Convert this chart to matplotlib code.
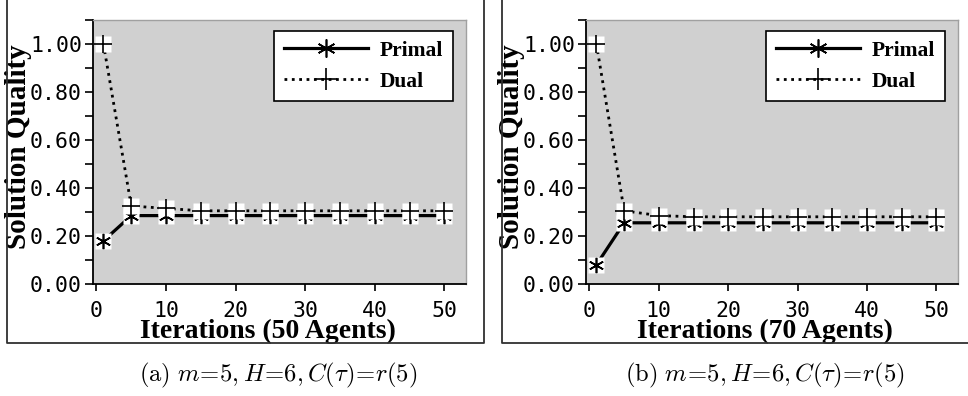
import matplotlib
matplotlib.use("Agg")
import matplotlib.pyplot as plt
from matplotlib.lines import Line2D
from matplotlib.ticker import MultipleLocator, FormatStrFormatter

plt.rcParams['mathtext.fontset'] = 'cm'

# data
iterations = [1, 5, 10, 15, 20, 25, 30, 35, 40, 45, 50]
primal_50 = [0.18, 0.285, 0.285, 0.285, 0.285, 0.285, 0.285, 0.285, 0.285, 0.285, 0.285]
dual_50 = [1.00, 0.325, 0.315, 0.305, 0.305, 0.305, 0.305, 0.305, 0.305, 0.305, 0.305]
primal_70 = [0.08, 0.255, 0.255, 0.255, 0.255, 0.255, 0.255, 0.255, 0.255, 0.255, 0.255]
dual_70 = [1.00, 0.305, 0.285, 0.28, 0.28, 0.28, 0.28, 0.28, 0.28, 0.28, 0.28]
xlabels = ['Iterations (50 Agents)', 'Iterations (70 Agents)']
captions = [r'$\mathrm{(a)}\ m\!=\!5, H\!=\!6, C(\tau)\!=\!r(5)$',
            r'$\mathrm{(b)}\ m\!=\!5, H\!=\!6, C(\tau)\!=\!r(5)$']

W, H = 968, 396
fig = plt.figure(figsize=(W / 100, H / 100), dpi=100)

SERIF = 'Liberation Serif'
MONO = 'DejaVu Sans Mono'
ASTER = (6, 2, 0)


def panel(rect, primal, dual, xlabel, xlab_x):
    ax = fig.add_axes(rect)
    ax.set_facecolor('#d0d0d0')
    ax.set_xlim(-0.5, 53.1)
    ax.set_ylim(0, 1.1)

    # primal first, dual drawn above it (its white squares hide part of the asterisks)
    ax.plot(iterations, primal, '-', color='black', lw=2.3, zorder=3)
    ax.plot(iterations, primal, 's', ms=12, mfc='white', mec='none', zorder=4)
    ax.plot(iterations, primal, ls='none', marker=ASTER, ms=11, mec='black', mew=1.2, zorder=5)
    ax.plot(iterations, dual, ':', color='black', lw=2.0, zorder=6)
    ax.plot(iterations, dual, 's', ms=12, mfc='white', mec='none', zorder=7)
    ax.plot(iterations, dual, ls='none', marker='+', ms=13, mec='black', mew=1.2, zorder=8)

    for s in ['left', 'bottom']:
        ax.spines[s].set_color('black')
        ax.spines[s].set_linewidth(1.3)
    for s in ['top', 'right']:
        ax.spines[s].set_color('#a0a0a0')
        ax.spines[s].set_linewidth(1.0)

    ax.yaxis.set_major_locator(MultipleLocator(0.2))
    ax.yaxis.set_minor_locator(MultipleLocator(0.1))
    ax.yaxis.set_major_formatter(FormatStrFormatter('%.2f'))
    ax.xaxis.set_major_locator(MultipleLocator(10))
    ax.tick_params(axis='y', which='both', direction='out', length=6, width=1.2, pad=2,
                   labelsize=15.5)
    ax.tick_params(axis='x', direction='out', length=5, width=1.2, pad=7, labelsize=15.5)
    for lab in ax.get_xticklabels() + ax.get_yticklabels():
        lab.set_fontfamily(MONO)

    ax.set_ylabel('Solution Quality', fontfamily=SERIF, fontweight='bold', fontsize=21,
                  va='center')
    ax.yaxis.set_label_coords(-0.2, 0.52)
    ax.text(xlab_x, -0.178, xlabel, transform=ax.transAxes, ha='center', va='center',
            fontfamily=SERIF, fontweight='bold', fontsize=20)

    handles = [Line2D([], [], color='black', lw=2.3, ls='-', marker=ASTER, ms=13, mew=1.2),
               Line2D([], [], color='black', lw=2.0, ls=':', marker='+', ms=16, mew=1.2)]
    leg = ax.legend(handles, ['Primal', 'Dual'], loc='upper right',
                    bbox_to_anchor=(0.965, 0.958), borderaxespad=0, fancybox=False,
                    framealpha=1, edgecolor='black', handlelength=3.9,
                    prop={'family': SERIF, 'weight': 'bold', 'size': 15.5},
                    labelspacing=0.5, borderpad=0.45, handletextpad=0.55)
    leg.get_frame().set_linewidth(1.2)
    leg.set_zorder(20)
    return ax


panel([93 / W, 1 - 284 / H, 373 / W, 264 / H], primal_50, dual_50, xlabels[0], 0.469)
panel([586 / W, 1 - 284 / H, 372 / W, 264 / H], primal_70, dual_70, xlabels[1], 0.481)

# frames around the two sub-figures
frame = dict(color='#303030', lw=1.3, transform=fig.transFigure)
fig.add_artist(Line2D([7 / W, 7 / W, 484 / W, 484 / W], [1, 1 - 343 / H, 1 - 343 / H, 1], **frame))
fig.add_artist(Line2D([502 / W, 502 / W, 1], [1, 1 - 343 / H, 1 - 343 / H], **frame))

fig.text(278 / W, 1 - 375 / H, captions[0], ha='center', va='center', fontsize=17.7)
fig.text(765 / W, 1 - 375 / H, captions[1], ha='center', va='center', fontsize=17.7)

fig.savefig('out.png', dpi=100)
